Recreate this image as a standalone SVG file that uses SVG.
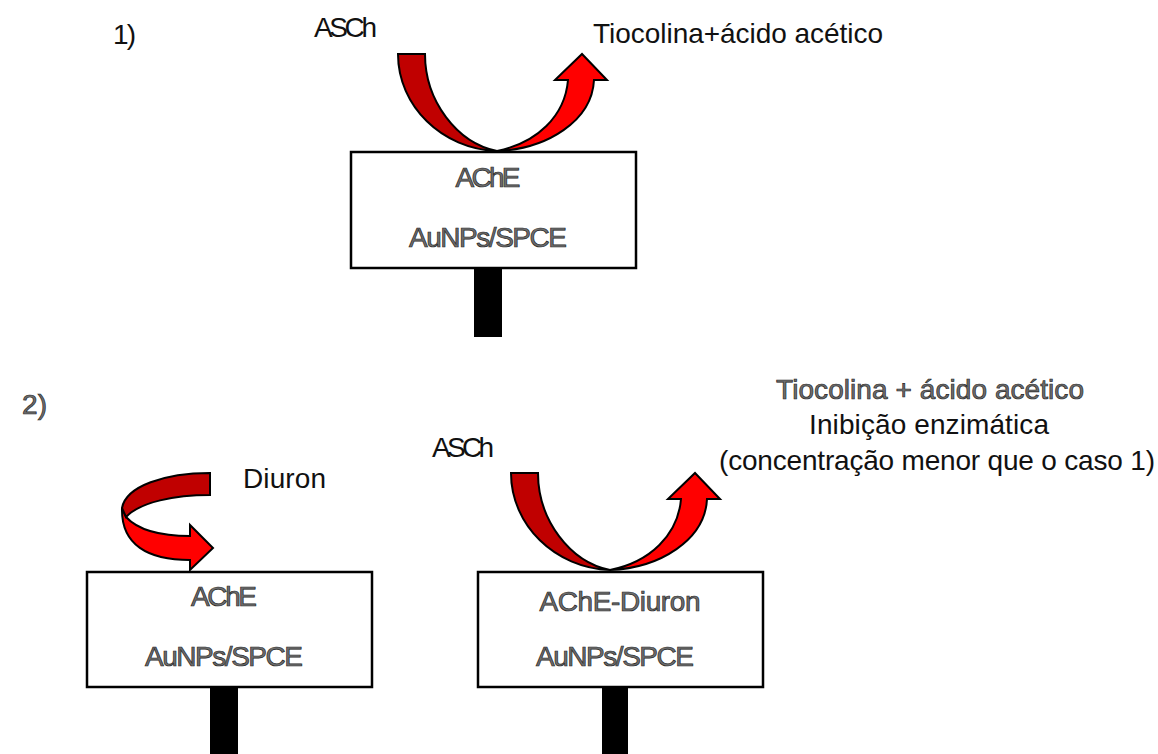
<svg xmlns="http://www.w3.org/2000/svg" width="1158" height="754" viewBox="0 0 1158 754">
  <style>
    text { font-family: "Liberation Sans", Arial, sans-serif; font-size: 28px; }
    .plain { fill: #111; }
    .outl { fill: #6e6e6e; stroke: #262626; stroke-width: 0.7px; }
    .mid { text-anchor: middle; }
    .box { fill: #fff; stroke: #000; stroke-width: 2.5; }
    .stem { fill: #000; }
    .back { fill: #c00000; stroke: #000; stroke-width: 2; stroke-linejoin: miter; }
    .front { fill: #ff0000; stroke: #000; stroke-width: 2; stroke-linejoin: miter; }
  </style>
  <defs>
    <!-- U-turn arrow, origin at the point where it touches the electrode -->
    <g id="uturn">
      <path class="back" d="M-99,-97 L-72,-97 C-72,-50 -40,-8 0,0 C-55,-2 -99,-45 -99,-97 Z"/>
      <path class="front" d="M0,0 C40,-8 68,-35 71,-71 L58,-71 L85,-97 L110,-71 L97,-71 C95,-30 50,-2 0,0 Z"/>
    </g>
  </defs>
  <rect width="1158" height="754" fill="#fff"/>

  <!-- Case 1 -->
  <text class="plain" x="113" y="44" textLength="23">1)</text>
  <text class="plain" x="314" y="37" textLength="63">ASCh</text>
  <text class="plain" x="593" y="43" textLength="290">Tiocolina+ácido acético</text>

  <g id="electrode1">
    <rect class="stem" x="474" y="268" width="28" height="69"/>
    <rect class="box" x="351" y="152" width="285" height="116"/>
    <text class="outl mid" x="488" y="187" textLength="65">AChE</text>
    <text class="outl mid" x="488" y="247" textLength="158">AuNPs/SPCE</text>
  </g>

  <!-- Case 2 -->
  <text class="outl" x="22" y="414" textLength="25">2)</text>
  <text class="plain" x="243" y="488" textLength="83">Diuron</text>
  <text class="plain" x="432" y="457" textLength="62">ASCh</text>
  <text class="outl mid" x="930" y="399" textLength="308">Tiocolina + ácido acético</text>
  <text class="plain mid" x="929" y="434" textLength="240">Inibição enzimática</text>
  <text class="plain mid" x="937" y="470" textLength="436">(concentração menor que o caso 1)</text>

  <g id="electrode2a">
    <rect class="stem" x="210" y="687" width="28" height="67"/>
    <rect class="box" x="87" y="572" width="285" height="115"/>
    <text class="outl mid" x="224" y="606" textLength="66">AChE</text>
    <text class="outl mid" x="224" y="666" textLength="158">AuNPs/SPCE</text>
  </g>

  <g id="electrode2b">
    <rect class="stem" x="602" y="687" width="26" height="67"/>
    <rect class="box" x="478" y="572" width="285" height="115"/>
    <text class="outl mid" x="620" y="611" textLength="161">AChE-Diuron</text>
    <text class="outl mid" x="615" y="666" textLength="158">AuNPs/SPCE</text>
  </g>

  <!-- reaction arrows -->
  <g id="connectors">
    <use href="#uturn" transform="translate(497,151)"/>
    <use href="#uturn" transform="translate(610,570)"/>
    <!-- Diuron binding: curled arrow onto the first electrode -->
    <path class="front" d="M126,517 C138,530 160,536 190,536 L190,525 L213,548 L190,570 L190,560 C148,560 121,545 122,508 Z"/>
    <path class="back" d="M210,473 L210,495 C175,495 140,502 126,517 L122,508 C126,486 165,473 210,473 Z"/>
  </g>
</svg>
